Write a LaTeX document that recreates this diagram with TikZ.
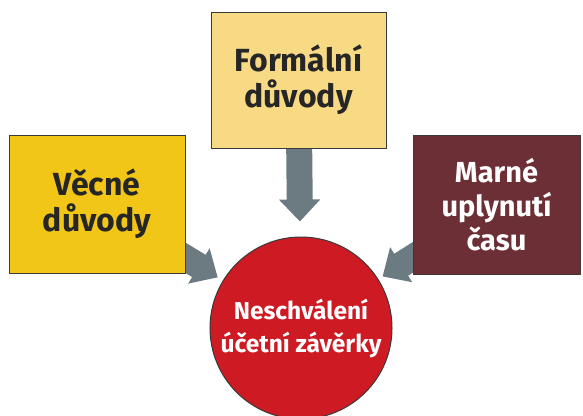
\documentclass[tikz,border=0pt]{standalone}
\usepackage{fontspec}
\setmainfont{Fira Sans}
\usetikzlibrary{arrows.meta,backgrounds}
\definecolor{yelL}{HTML}{F2C617}
\definecolor{yelT}{HTML}{F8DA84}
\definecolor{maroon}{HTML}{6C2F35}
\definecolor{redC}{HTML}{CD1A23}
\definecolor{arrG}{HTML}{6C7B82}
\definecolor{edgeC}{HTML}{3A3A3A}
\tikzset{
  box/.style={draw=edgeC, line width=1pt, align=center, inner sep=0pt,
    font=\bfseries\fontsize{32}{36}\selectfont},
  bigarrow/.style={draw=arrG, line width=26pt, -{Triangle[width=40pt,length=22pt]}, arrG}
}
\begin{document}
\begin{tikzpicture}[x=1pt,y=-1pt]
\useasboundingbox (0,0) rectangle (583,415);
\node[box, fill=yelL, text=black!85, minimum width=176pt, minimum height=138pt] (lbox) at (97,204) {Věcné\\důvody};
\node[box, fill=yelT, text=black!85, minimum width=175pt, minimum height=136pt] (tbox) at (298.5,80) {Formální\\důvody};
\node[box, fill=maroon, text=white, minimum width=167pt, minimum height=139pt,
  font=\bfseries\fontsize{29}{34}\selectfont] (rbox) at (496.5,204.5) {Marné\\uplynutí\\času};
\node[circle, draw=edgeC, line width=1pt, fill=redC, text=white, minimum size=182pt, inner sep=0pt, align=center,
  font=\bfseries\fontsize{24.5}{33}\selectfont] (circ) at (301,328) {Neschválení\\účetní závěrky};
\begin{scope}[on background layer]
\draw[bigarrow, shorten >=15pt] (tbox.center) -- (circ);
\draw[bigarrow, shorten >=6pt] (lbox.center) -- (circ);
\draw[bigarrow, shorten >=5pt] (rbox.center) -- (circ);
\end{scope}
\end{tikzpicture}
\end{document}
